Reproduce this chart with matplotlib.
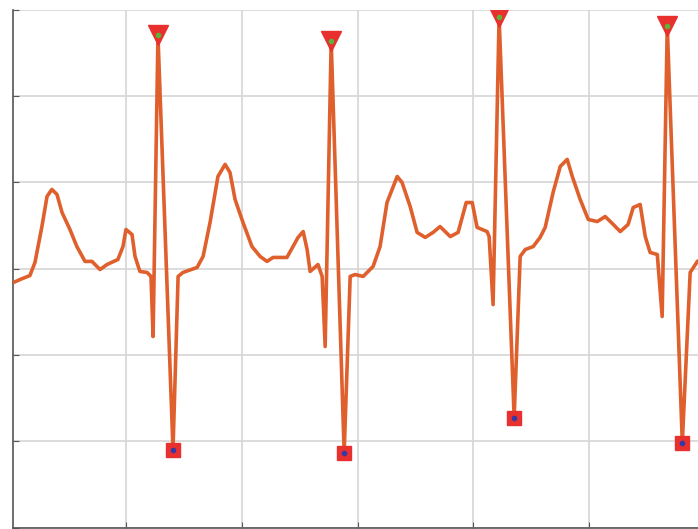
import matplotlib
matplotlib.use('Agg')
import matplotlib.pyplot as plt

# ECG trace (time in s, amplitude in mV)
t = [0.000, 0.042, 0.085, 0.107, 0.137, 0.159, 0.180, 0.202, 0.224, 0.258,
     0.288, 0.323, 0.353, 0.388, 0.418, 0.465, 0.487, 0.500, 0.526, 0.539,
     0.560, 0.591, 0.608, 0.617, 0.638, 0.703, 0.725, 0.746, 0.807, 0.833,
     0.863, 0.897, 0.928, 0.949, 0.971, 1.005, 1.044, 1.079, 1.109, 1.135,
     1.195, 1.221, 1.243, 1.265, 1.282, 1.295, 1.329, 1.347, 1.360, 1.386,
     1.442, 1.468, 1.489, 1.524, 1.567, 1.597, 1.627, 1.671, 1.692, 1.727,
     1.757, 1.792, 1.826, 1.856, 1.900, 1.934, 1.969, 1.995, 2.016, 2.059,
     2.068, 2.085, 2.111, 2.176, 2.202, 2.224, 2.258, 2.288, 2.310, 2.344,
     2.375, 2.405, 2.427, 2.461, 2.496, 2.535, 2.569, 2.604, 2.634, 2.668,
     2.690, 2.720, 2.742, 2.763, 2.794, 2.815, 2.837, 2.902, 2.936, 2.967,
     3.000]
v = [-0.090, -0.064, -0.041, 0.035, 0.243, 0.417, 0.458, 0.429, 0.324, 0.226,
     0.127, 0.041, 0.041, -0.006, 0.023, 0.052, 0.127, 0.226, 0.197, 0.070,
     -0.017, -0.023, -0.046, -0.394, 1.350, -1.049, -0.046, -0.023, 0.006, 0.070,
     0.267, 0.533, 0.603, 0.556, 0.400, 0.267, 0.127, 0.070, 0.041, 0.064,
     0.064, 0.127, 0.180, 0.214, 0.110, -0.017, 0.023, -0.046, -0.452, 1.317,
     -1.066, -0.046, -0.035, -0.046, 0.012, 0.127, 0.382, 0.533, 0.498, 0.359,
     0.209, 0.180, 0.209, 0.243, 0.185, 0.209, 0.382, 0.382, 0.238, 0.214,
     0.185, -0.209, 1.455, -0.863, 0.070, 0.110, 0.127, 0.180, 0.238, 0.440,
     0.591, 0.632, 0.533, 0.400, 0.284, 0.272, 0.301, 0.255, 0.214, 0.255,
     0.353, 0.371, 0.185, 0.093, 0.081, -0.278, 1.404, -1.008, -0.023, 0.041,
     0.064]

# detected R peaks and S troughs
r_t = [0.638, 1.386, 2.111, 2.837]
r_v = [1.350, 1.317, 1.455, 1.404]
s_t = [0.703, 1.442, 2.176, 2.902]
s_v = [-1.049, -1.066, -0.863, -1.008]

fig = plt.figure(figsize=(6.98, 5.29), dpi=100)
# axes runs past the right edge, like the cropped original
ax = fig.add_axes([12.5 / 698, 1.5 / 529, 692.5 / 698, 518 / 529])

ax.plot(t, v, color='#DF602C', lw=2.6, zorder=3,
        solid_joinstyle='round', solid_capstyle='round')
ax.plot(r_t, r_v, 'v', ms=15, color='#E8302E', zorder=4)
ax.plot(r_t, r_v, 'o', ms=3, color='#5DB33A', zorder=5)
ax.plot(s_t, s_v, 's', ms=10, color='#E8302E', zorder=4)
ax.plot(s_t, s_v, 'o', ms=3, color='#3538A8', zorder=5)

ax.set_xlim(0.01, 3.0)
ax.set_ylim(-1.5, 1.5)
ax.set_xticks([0.5, 1.0, 1.5, 2.0, 2.5])
ax.set_yticks([-1.5, -1.0, -0.5, 0.0, 0.5, 1.0, 1.5])
ax.set_xticklabels([])
ax.set_yticklabels([])
ax.tick_params(direction='in', length=4, color='#555555')
ax.grid(True, color='#D6D6D6', lw=1.2)
ax.set_axisbelow(True)

for side in ['top', 'right']:
    ax.spines[side].set_visible(False)
for side in ['left', 'bottom']:
    ax.spines[side].set_color('#555555')
    ax.spines[side].set_linewidth(1.2)

fig.savefig('out.png', dpi=100)
